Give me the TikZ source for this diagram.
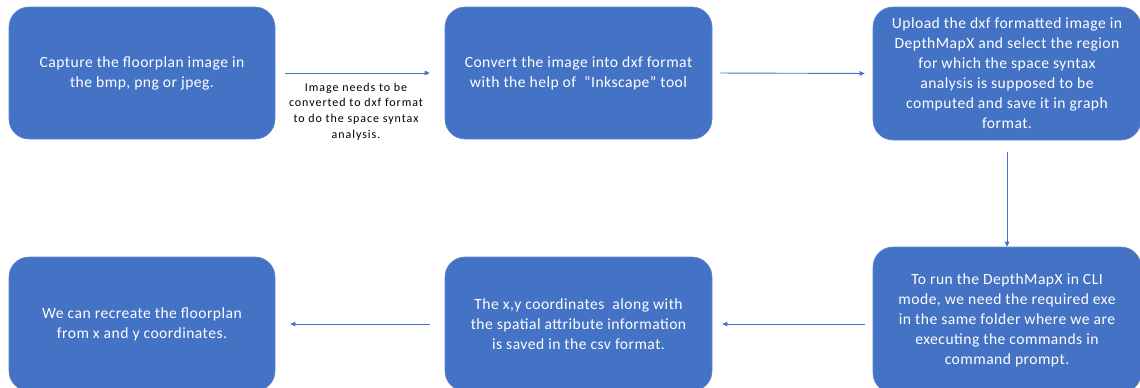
\documentclass[tikz,border=0pt]{standalone}
\usepackage{fontspec}
\setmainfont{Carlito}
\newfontfamily\boxfont[LetterSpace=3]{Carlito}
\newfontfamily\lblfont[LetterSpace=8]{Carlito}
\usetikzlibrary{arrows.meta}
\definecolor{boxblue}{HTML}{4472C4}
\tikzset{
  stepbox/.style={draw=boxblue!85!white, line width=0.6pt, fill=boxblue, rounded corners=20pt,
    text=white, align=center, inner sep=0pt,
    font=\boxfont\fontsize{15.6}{20}\selectfont},
  arr/.style={draw=boxblue, line width=0.9pt, -{Triangle[length=5pt,width=4.5pt]}},
  lbl/.style={align=center, text=black, inner sep=0pt, font=\lblfont\fontsize{12}{15.6}\selectfont}
}
\begin{document}
\begin{tikzpicture}[x=1pt,y=-1pt]
\clip (0,0) rectangle (1140,388);
\useasboundingbox (0,0) rectangle (1140,388);
\fill[white] (0,0) rectangle (1140,388);
\node[stepbox, minimum width=266pt, minimum height=132pt] (b1) at (142,73)
  {Capture the floorplan image in\\the bmp, png or jpeg.};
\node[stepbox, minimum width=267pt, minimum height=132pt] (b2) at (578.5,73)
  {Convert the image into dxf format\\with the help of \ “Inkscape” tool};
\node[stepbox, minimum width=268pt, minimum height=133pt] (b3) at (1007,73.5)
  {Upload the dxf formatted image in\\DepthMapX and select the region\\for which the space syntax\\analysis is supposed to be\\computed and save it in graph\\format.};
\node[stepbox, minimum width=268pt, minimum height=146pt] (b4) at (1007,320)
  {To run the DepthMapX in CLI\\mode, we need the required exe\\in the same folder where we are\\executing the commands in\\command prompt.};
\node[stepbox, minimum width=267pt, minimum height=134pt] (b5) at (578.5,324)
  {The x,y coordinates \ along with\\the spatial attribute information\\is saved in the csv format.};
\node[stepbox, minimum width=266pt, minimum height=134pt] (b6) at (142,324)
  {We can recreate the floorplan\\from x and y coordinates.};
\node[lbl] (l1) at (356,111.5)
  {Image needs to be\\converted to dxf format\\to do the space syntax\\analysis.};
\draw[arr, shorten <=10pt, shorten >=15pt] (b1.east) -- (b2.west);
\draw[arr, shorten <=8pt, shorten >=8pt] (b2.east) -- (b3.west);
\draw[arr, shorten <=12pt] (b3.south) -- (b4.north);
\draw[arr, shorten <=8pt, shorten >=10pt] (b4.west |- b5.east) -- (b5.east);
\draw[arr, shorten <=15pt, shorten >=15pt] (b5.west) -- (b6.east);
\end{tikzpicture}
\end{document}
